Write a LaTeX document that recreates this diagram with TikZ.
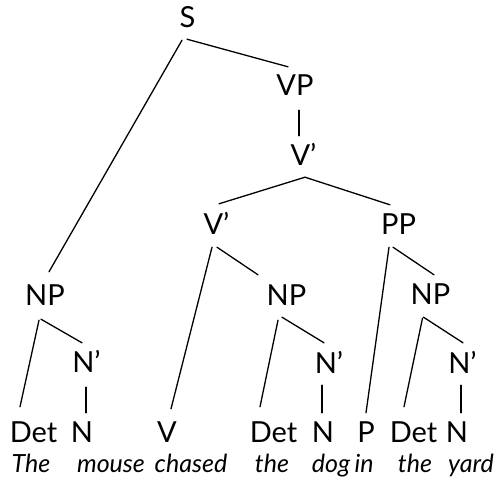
\documentclass[tikz,border=0pt]{standalone}
\usepackage{fontspec}
\setmainfont{Lato}
\begin{document}
\begin{tikzpicture}[x=1pt,y=-1pt,
  lab/.style={anchor=base,inner sep=0pt,text height=20pt,text depth=0pt,font=\fontsize{29}{32}\selectfont},
  word/.style={anchor=base,inner sep=0pt,font=\fontsize{25}{30}\selectfont\itshape},
  branch/.style={line width=1.3pt,line cap=round}]
\useasboundingbox (0,0) rectangle (498,485);

% phrase labels
\node[lab] (s)    at (187.5,27)  {S};
\node[lab] (vp)   at (295,95)    {VP};
\node[lab] (vb1)  at (303.5,165) {V’};
\node[lab] (vb2)  at (216.5,234) {V’};
\node[lab] (pp)   at (398.5,234) {PP};
\node[lab] (np1)  at (45,305)    {NP};
\node[lab] (np2)  at (286.5,305) {NP};
\node[lab] (np3)  at (430.5,304) {NP};
\node[lab] (nb1)  at (86.5,372)  {N’};
\node[lab] (nb2)  at (329,373)   {N’};
\node[lab] (nb3)  at (462.5,373) {N’};

% terminal categories
\node[lab] (det1) at (33.5,442)  {Det};
\node[lab] (n1)   at (82,442)    {N};
\node[lab] (v)    at (167,442)   {V};
\node[lab] (det2) at (273.5,442) {Det};
\node[lab] (n2)   at (323,442)   {N};
\node[lab] (p)    at (366,442)   {P};
\node[lab] (det3) at (413.5,442) {Det};
\node[lab] (n3)   at (457,442)   {N};

% the sentence
\node[word] (w1) at (31,472)  {The};
\node[word] (w2) at (111,472) {mouse};
\node[word] (w3) at (191,472) {chased};
\node[word] (w4) at (272,472) {the};
\node[word] (w5) at (331,472) {dog};
\node[word] (w6) at (364,472) {in};
\node[word] (w7) at (415,472) {the};
\node[word] (w8) at (471,472) {yard};

% branches
\draw[branch] ([shift={(-5.5,13)}]s.south) -- ([shift={(4,-13)}]np1.north);
\draw[branch] ([shift={(-0.5,12)}]s.south) -- ([shift={(-7,-8)}]vp.north);
\draw[branch] ([shift={(4,15)}]vp.south) -- ([shift={(-4.5,-9)}]vb1.north);
\draw[branch] ([shift={(1.5,12)}]vb1.south) -- ([shift={(2.5,-10)}]vb2.north);
\draw[branch] ([shift={(1.5,12)}]vb1.south) -- ([shift={(-8.5,-9)}]pp.north);
\draw[branch] ([shift={(-4.5,13)}]vb2.south) -- ([shift={(4,-13)}]v.north);
\draw[branch] ([shift={(0.5,13)}]vb2.south) -- ([shift={(-28.5,-10)}]np2.north);
\draw[branch] ([shift={(-9.5,13)}]pp.south) -- ([shift={(0,-9)}]p.north);
\draw[branch] ([shift={(-5.5,13)}]pp.south) -- ([shift={(3.5,-9)}]np3.north);
\draw[branch] ([shift={(-6,15)}]np1.south) -- ([shift={(-13.5,-15)}]det1.north);
\draw[branch] ([shift={(-4,14)}]np1.south) -- ([shift={(-4.5,-9)}]nb1.north);
\draw[branch] ([shift={(-0.5,15)}]nb1.south) -- ([shift={(4,-9)}]n1.north);
\draw[branch] ([shift={(-8.5,15)}]np2.south) -- ([shift={(-13.5,-15)}]det2.north);
\draw[branch] ([shift={(-4.5,12)}]np2.south) -- ([shift={(-5,-10)}]nb2.north);
\draw[branch] ([shift={(-7,12)}]nb2.south) -- ([shift={(-1,-9)}]n2.north);
\draw[branch] ([shift={(-8,14)}]np3.south) -- ([shift={(-9.5,-15)}]det3.north);
\draw[branch] ([shift={(-7,13)}]np3.south) -- ([shift={(0.5,-10)}]nb3.north);
\draw[branch] ([shift={(-1.5,12)}]nb3.south) -- ([shift={(4,-9)}]n3.north);
\end{tikzpicture}
\end{document}
